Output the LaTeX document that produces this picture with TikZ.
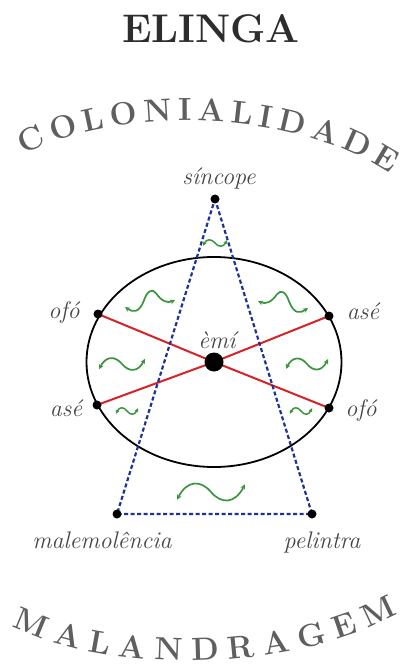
\documentclass[tikz,border=0pt]{standalone}
\usepackage{fontspec}
\usetikzlibrary{decorations.text,arrows.meta}
\definecolor{wavegreen}{RGB}{58,150,62}
\definecolor{triblue}{RGB}{30,50,150}
\definecolor{linered}{RGB}{215,35,40}
\definecolor{labelgray}{RGB}{70,70,70}
\definecolor{arcgray}{RGB}{95,95,95}
\definecolor{titlegray}{RGB}{45,45,45}
\begin{document}
\begin{tikzpicture}[x=1pt,y=-1pt,
  wavearrow/.style={draw=wavegreen, line width=1.7pt, {Stealth[length=5pt,width=5pt]}-{Stealth[length=5pt,width=5pt]}},
  smallwave/.style={draw=wavegreen, line width=1.5pt, {Stealth[length=4pt,width=4pt]}-{Stealth[length=4pt,width=4pt]}},
  wv/.pic={\draw[wavearrow] (-1,0.35) .. controls (-0.7,-0.55) and (-0.3,-0.55) .. (0,0) .. controls (0.3,0.55) and (0.7,0.55) .. (1,-0.35);},
  wvsmall/.pic={\draw[smallwave] (-1,0.35) .. controls (-0.7,-0.55) and (-0.3,-0.55) .. (0,0) .. controls (0.3,0.55) and (0.7,0.55) .. (1,-0.35);},
  wvs/.pic={\draw[wavearrow] (-1,0.24) .. controls (-0.7,0.45) and (-0.45,0.5) .. (-0.25,0) .. controls (-0.1,-0.45) and (0.1,-0.5) .. (0.25,-0.3) .. controls (0.45,0) and (0.7,0.1) .. (1,-0.04);},
  ellipseline/.style={draw=black, line width=1.8pt},
  redline/.style={draw=linered, line width=2pt},
  triline/.style={draw=triblue, line width=2.2pt, dash pattern=on 4pt off 2.5pt},
  smalldot/.style={circle, fill=black, inner sep=0pt, minimum size=9pt},
  bigdot/.style={circle, fill=black, inner sep=0pt, minimum size=19pt},
  lab/.style={text=labelgray, font=\fontsize{24}{28}\selectfont\itshape, inner sep=0pt, anchor=base},
  archtext/.style={decorate, decoration={text along path, text align=fit to path, text color=arcgray, text={|\fontsize{32}{38}\selectfont\bfseries|#1}}}
]
\fill[white] (0,0) rectangle (407,668);
\useasboundingbox (0,0) rectangle (407,668);

% title
\node[anchor=base, text=titlegray, font=\fontsize{40}{48}\selectfont\bfseries, inner sep=0pt] (title) at (211,43) {ELINGA};

% arched words
\path[archtext=COLONIALIDADE] (24,155) .. controls (110,109) and (285,104) .. (391,174);
\path[archtext=MALANDRAGEM] (12,626) .. controls (110,675) and (290,673) .. (398,614);

% points
\coordinate (pOfoL) at (98,314);
\coordinate (pAseR) at (329,316);
\coordinate (pAseL) at (97,405);
\coordinate (pOfoR) at (329,408);
\coordinate (pEmi) at (214,362);
\coordinate (pSin) at (215,199);
\coordinate (pMal) at (117,514);
\coordinate (pPel) at (312,514);

% ellipse
\draw[ellipseline] (pEmi) ellipse [x radius=127.5, y radius=105];

% red lines
\draw[redline] (pOfoL) -- (pEmi);
\draw[redline] (pEmi) -- (pOfoR);
\draw[redline] (pAseL) -- (pEmi);
\draw[redline] (pEmi) -- (pAseR);

% triangle
\draw[triline] (pSin) -- (pPel) -- (pMal) -- cycle;

% dots
\node[smalldot] (ofoL) at (pOfoL) {};
\node[smalldot] (aseR) at (pAseR) {};
\node[smalldot] (aseL) at (pAseL) {};
\node[smalldot] (ofoR) at (pOfoR) {};
\node[bigdot] (emi) at (pEmi) {};
\node[smalldot] (sin) at (pSin) {};
\node[smalldot] (mal) at (pMal) {};
\node[smalldot] (pel) at (pPel) {};

% wave arrows
\pic[xscale=12,yscale=8] at (215,243) {wvsmall};
\pic[xscale=25,yscale=25] at (150,301) {wvs};
\pic[xscale=-25,yscale=25] at (283,302) {wvs};
\pic[xscale=23,yscale=15] at (122,364) {wv};
\pic[xscale=21,yscale=14] at (307,364) {wv};
\pic[xscale=11,yscale=8] at (127,411) {wvsmall};
\pic[xscale=11,yscale=8] at (301,411) {wvsmall};
\pic[xscale=34,yscale=22] at (211,492) {wv};

% labels
\node[lab] (lSin) at (219,185) {síncope};
\node[lab] (lOfoL) at (64,318) {ofó};
\node[lab] (lAseL) at (66,416) {asé};
\node[lab] (lAseR) at (363,319) {asé};
\node[lab] (lOfoR) at (361,416) {ofó};
\node[lab] (lEmi) at (217,348) {èmí};
\node[lab] (lMal) at (102,548) {malemolência};
\node[lab] (lPel) at (322,548) {pelintra};
\end{tikzpicture}
\end{document}
